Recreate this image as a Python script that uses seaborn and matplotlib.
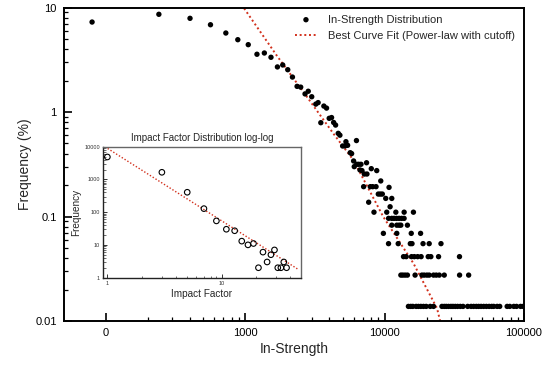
import matplotlib
matplotlib.use("Agg")
import matplotlib.pyplot as plt
import matplotlib.ticker as mticker
import numpy as np
import pandas as pd
import seaborn as sns

# --- main panel: in-strength distribution ---
head_strength = [80, 241, 403, 565, 728, 887, 1054, 1217, 1375, 1534, 1706, 1862,
                 2023, 2186, 2360, 2506, 2692, 2838, 3006, 3214, 3340, 3492, 3672,
                 3838, 4010, 4171, 4315, 4457, 4656, 4786, 5287, 6289, 5005, 5200,
                 5436, 5675, 5808, 6000, 6065, 6310, 6520, 6775, 7430, 6665, 6890,
                 7160, 7480, 8035, 8790, 7080, 7905, 8225, 8690, 9395, 10770, 9020,
                 9330, 9640, 10200, 11270, 7695, 10960]
head_freq = [7.26, 8.61, 7.88, 6.84, 5.70, 4.92, 4.41, 3.57, 3.67, 3.34, 2.70, 2.82,
             2.54, 2.16, 1.76, 1.73, 1.49, 1.58, 1.40, 1.19, 1.23, 0.79, 1.14,
             1.09, 0.87, 0.885, 0.794, 0.75, 0.625, 0.60, 0.52, 0.533, 0.473, 0.473,
             0.48, 0.408, 0.40, 0.34, 0.30, 0.316, 0.316, 0.316, 0.327, 0.279, 0.275,
             0.255, 0.255, 0.287, 0.275, 0.193, 0.193, 0.193, 0.193, 0.219, 0.19, 0.164,
             0.164, 0.164, 0.149, 0.149, 0.137, 0.124]

# tail: low-frequency levels (1..8 occurrences) and the strengths found on each
tail_levels = [0.0138, 0.0275, 0.0413, 0.055, 0.069, 0.0826, 0.096, 0.110]
tail_1 = [14830, 15420, 15950, 16850, 17500, 18210, 19010, 19890, 21250, 22450,
          25800, 26800, 27700, 28770, 29930, 30950, 32150, 33400, 34920, 36530,
          39440, 41730, 43520, 45520, 47290, 49210, 51370, 53730, 56200, 58660,
          60630, 64150, 66970, 75700, 79070, 84490, 88380, 94420, 98640]
tail_2 = [13090, 13520, 14040, 14590, 16560, 18530, 19240, 20120, 20900, 22450,
          23480, 24680, 26800, 34510, 40090]
tail_3 = [13680, 14300, 15620, 16350, 17280, 18290, 20560, 21480, 24390, 34460]
tail_4 = [10680, 12530, 15300, 15740, 18880, 20900, 25390]
tail_5 = [9810, 12240, 15540, 18130]
tail_6 = [11270, 12240, 12710, 13090, 14590]
tail_7 = [10690, 11270, 11700, 12190, 12710, 13250, 13810]
tail_8 = [8400, 10370, 12050, 13820, 16110]

# best fit (power law with cutoff)
fit_strength = [900, 975, 1677, 2831, 4285, 5970, 9790, 16100, 23770, 25060, 26500]
fit_freq = [11.6, 10, 3.51, 1.35, 0.625, 0.348, 0.0995, 0.0357, 0.01325, 0.01, 0.0087]

x_ticks = [100, 1000, 10000, 100000]
x_ticklabels = ["0", "1000", "10000", "100000"]
y_ticks = [0.01, 0.1, 1, 10]
y_ticklabels = ["0.01", "0.1", "1", "10"]

# --- inset: impact factor distribution ---
impact_factor = [1, 3, 5, 7, 9, 11, 13, 15, 17, 19, 21, 23, 25, 27, 29, 31, 33, 35, 37]
impact_count = [4850, 1650, 405, 128, 54, 30, 27, 13, 10, 11, 2, 6, 3, 5, 7, 2, 2, 3, 2]
inset_fit_x = [0.95, 46]
inset_fit_y = [10000, 1.85]
inset_xticks = [1, 10]
inset_yticks = [1, 10, 100, 1000, 10000]

RED = "#d2301c"

sns.set_theme(style="ticks")
plt.rcParams.update({
    "font.family": ["Liberation Sans", "DejaVu Sans"],
    "axes.edgecolor": "black",
    "xtick.direction": "in", "ytick.direction": "in",
})

tail_rows = [tail_1, tail_2, tail_3, tail_4, tail_5, tail_6, tail_7, tail_8]
main = pd.concat(
    [pd.DataFrame({"strength": head_strength, "freq": head_freq})]
    + [pd.DataFrame({"strength": r, "freq": lvl}) for r, lvl in zip(tail_rows, tail_levels)],
    ignore_index=True)
fit = pd.DataFrame({"strength": fit_strength, "freq": fit_freq})

fig = plt.figure(figsize=(5.45, 3.85), dpi=100)
ax = fig.add_axes([0.1167, 0.1662, 0.8448, 0.8143])
ax.set(xscale="log", yscale="log")

sns.scatterplot(data=main, x="strength", y="freq", ax=ax, color="black", s=15,
                edgecolor="none", label="In-Strength Distribution", zorder=3)
sns.lineplot(data=fit, x="strength", y="freq", ax=ax, color=RED, lw=1.4,
             linestyle=(0, (1, 1.4)), sort=False, label="Best Curve Fit (Power-law with cutoff)")

ax.set_xlim(50, 100000)
ax.set_ylim(0.01, 10)
ax.xaxis.set_major_locator(mticker.FixedLocator(x_ticks))
ax.xaxis.set_major_formatter(mticker.FixedFormatter(x_ticklabels))
ax.xaxis.set_minor_locator(mticker.FixedLocator(
    [m * 10 ** e for e in (2, 3, 4) for m in range(2, 10)]))
ax.xaxis.set_minor_formatter(mticker.NullFormatter())
ax.yaxis.set_major_locator(mticker.FixedLocator(y_ticks))
ax.yaxis.set_major_formatter(mticker.FixedFormatter(y_ticklabels))
ax.yaxis.set_minor_locator(mticker.LogLocator(base=10, subs=np.arange(2, 10)))
ax.yaxis.set_minor_formatter(mticker.NullFormatter())
ax.tick_params(which="major", length=6, width=1.2, labelsize=8, pad=5, colors="black")
ax.tick_params(which="minor", length=3, width=0.9, colors="black")
for sp in ax.spines.values():
    sp.set_visible(True)
    sp.set_linewidth(1.4)
ax.set_xlabel("In-Strength", fontsize=10, labelpad=3)
ax.set_ylabel("Frequency (%)", fontsize=10, labelpad=2)

ax.legend(loc="upper left", bbox_to_anchor=(0.541, 0.962), bbox_transform=fig.transFigure,
          frameon=False, fontsize=8, borderpad=0, borderaxespad=0, labelspacing=0.6,
          handlelength=2.0, handletextpad=1.0, markerscale=1.0)

# inset
ins = fig.add_axes([0.1884, 0.2771, 0.3639, 0.3419])
ins.set(xscale="log", yscale="log")
ins.patch.set_facecolor("white")
sns.scatterplot(x=impact_factor, y=impact_count, ax=ins, marker="o", s=16,
                facecolor="none", edgecolor="black", linewidth=0.8, zorder=3)
sns.lineplot(x=inset_fit_x, y=inset_fit_y, ax=ins, color=RED, lw=1.0,
             linestyle=(0, (1, 1.4)))
ins.set_xlim(0.91, 49.5)
ins.set_ylim(0.95, 10000)
ins.xaxis.set_major_locator(mticker.FixedLocator(inset_xticks))
ins.xaxis.set_major_formatter(mticker.FixedFormatter([str(v) for v in inset_xticks]))
ins.xaxis.set_minor_locator(mticker.LogLocator(base=10, subs=np.arange(2, 10)))
ins.xaxis.set_minor_formatter(mticker.NullFormatter())
ins.yaxis.set_major_locator(mticker.FixedLocator(inset_yticks))
ins.yaxis.set_major_formatter(mticker.FixedFormatter([str(v) for v in inset_yticks]))
ins.yaxis.set_minor_locator(mticker.LogLocator(base=10, subs=np.arange(2, 10)))
ins.yaxis.set_minor_formatter(mticker.NullFormatter())
ins.tick_params(which="major", length=3, width=0.7, labelsize=4, pad=2, colors="#333333")
ins.tick_params(which="minor", length=1.8, width=0.5, colors="#333333")
for name, sp in ins.spines.items():
    sp.set_visible(True)
    sp.set_linewidth(1.0)
    sp.set_color("#222222" if name in ("left", "bottom") else "#666666")
ins.set_title("Impact Factor Distribution log-log", fontsize=7, pad=4)
ins.set_xlabel("Impact Factor", fontsize=7.2, labelpad=2)
ins.set_ylabel("Frequency", fontsize=7.2, labelpad=2)
if ins.get_legend() is not None:
    ins.get_legend().remove()

fig.savefig("out.png", dpi=100)
